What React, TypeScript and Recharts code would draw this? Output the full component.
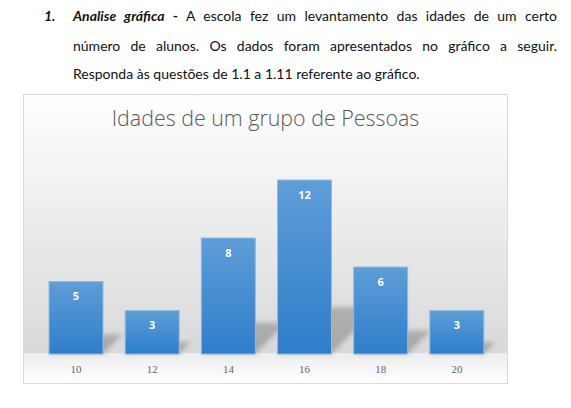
import React from 'react';
import { BarChart, Bar, XAxis, YAxis, LabelList } from 'recharts';

const ages = ['10', '12', '14', '16', '18', '20'];
const counts = [5, 3, 8, 12, 6, 3];
const title = 'Idades de um grupo de Pessoas';

const data = ages.map((age, i) => ({ age, count: counts[i] }));

// barra com sombra inclinada atrás (estilo Office)
const ShadowBar = (props: any) => {
  const { x, y, width, height } = props;
  if (!height || height <= 0) return null;
  const base = y + height;
  const s = height * 0.27;
  const pts = `${x},${base} ${x + width},${base} ${x + width + s},${base - s} ${x + s},${base - s}`;
  return (
    <g>
      <polygon points={pts} fill="#000" fillOpacity={0.22} filter="url(#shadowBlur)" />
      <rect x={x} y={y} width={width} height={height} fill="url(#barGrad)" stroke="#8fbbe4" strokeWidth={1} />
    </g>
  );
};

const lineStyle: React.CSSProperties = {
  position: 'absolute',
  whiteSpace: 'nowrap',
  fontFamily: 'Lato, sans-serif',
  fontSize: 14,
  color: '#111',
};

const justified: React.CSSProperties = {
  ...lineStyle,
  left: 73,
  width: 484,
  whiteSpace: 'normal',
  textAlign: 'justify',
  textAlignLast: 'justify',
};

export default function App() {
  return (
    <div style={{ position: 'absolute', left: 0, top: 0, width: 571, height: 408, background: '#fff', overflow: 'hidden' }}>
      {/* enunciado */}
      <div style={{ ...lineStyle, left: 44, top: 7, fontWeight: 700, fontStyle: 'italic' }}>1.</div>
      <div style={{ ...justified, top: 7 }}>
        <b><i>Analise gráfica</i> -</b> A escola fez um levantamento das idades de um certo
      </div>
      <div style={{ ...justified, top: 37 }}>
        número de alunos. Os dados foram apresentados no gráfico a seguir.
      </div>
      <div style={{ ...lineStyle, left: 73, top: 65 }}>
        Responda às questões de 1.1 a 1.11 referente ao gráfico.
      </div>

      {/* moldura do gráfico */}
      <div
        style={{
          position: 'absolute',
          left: 23,
          top: 94,
          width: 485,
          height: 290,
          boxSizing: 'border-box',
          border: '1px solid #d9d9d9',
          background:
            'linear-gradient(to bottom, #ffffff 0%, #f4f4f4 25%, #d9d9d9 89.5%, #ededed 89.7%, #ffffff 100%)',
        }}
      />
      <div
        style={{
          position: 'absolute',
          left: 23,
          top: 103,
          width: 485,
          textAlign: 'center',
          fontFamily: '"Open Sans", sans-serif',
          fontWeight: 300,
          fontSize: 21.4,
          color: '#595959',
        }}
      >
        {title}
      </div>

      <div style={{ position: 'absolute', left: 23, top: 94 }}>
        <BarChart width={485} height={290} data={data} margin={{ top: 57, right: 13, bottom: 0, left: 15 }}>
          <defs>
            <linearGradient id="barGrad" x1="0" y1="0" x2="0" y2="1">
              <stop offset="0%" stopColor="#5e9dd7" />
              <stop offset="100%" stopColor="#2f7ecb" />
            </linearGradient>
            <filter id="shadowBlur" x="-50%" y="-50%" width="200%" height="200%">
              <feGaussianBlur stdDeviation="2.5" />
            </filter>
          </defs>
          <XAxis
            dataKey="age"
            axisLine={false}
            tickLine={false}
            height={30}
            tickMargin={5}
            tick={{ fontSize: 11, fill: '#666666', fontFamily: '"Liberation Serif", serif' }}
          />
          <YAxis hide domain={[0, 14]} />
          <Bar dataKey="count" barSize={54} shape={ShadowBar} isAnimationActive={false}>
            <LabelList
              dataKey="count"
              position="insideTop"
              offset={11}
              fill="#ffffff"
              fontSize={11}
              fontWeight="bold"
              fontFamily='"Open Sans", sans-serif'
            />
          </Bar>
        </BarChart>
      </div>
    </div>
  );
}
